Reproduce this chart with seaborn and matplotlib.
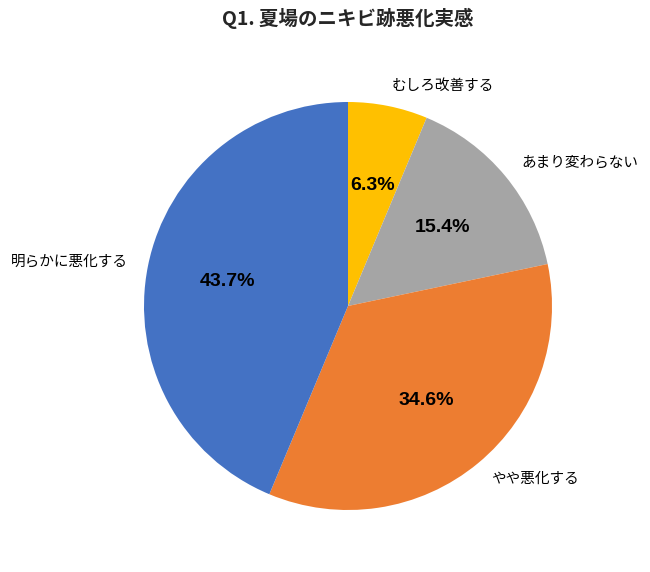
import matplotlib
matplotlib.use("Agg")
import matplotlib.pyplot as plt
import seaborn as sns

sns.set_theme(style="white")
plt.rcParams['font.family'] = ['Noto Sans CJK JP', 'DejaVu Sans']

categories = ["むしろ改善する", "あまり変わらない", "やや悪化する", "明らかに悪化する"]
values = [6.3, 15.4, 34.6, 43.7]
colors = ["#FFC000", "#A5A5A5", "#ED7D31", "#4472C4"]
title = "Q1. 夏場のニキビ跡悪化実感"

fig = plt.figure(figsize=(6.5, 5.72), dpi=100)
ax = fig.add_axes([144/650, 62/572, 408/650, 408/572])
wedges, texts, autotexts = ax.pie(
    values, labels=categories, colors=colors, startangle=90, counterclock=False,
    autopct="%.1f%%", pctdistance=0.6, labeldistance=1.1,
    wedgeprops=dict(linewidth=0),
    textprops=dict(fontsize=10.5, color="black"))
for t in autotexts:
    t.set_fontsize(14)
    t.set_fontweight("bold")
    t.set_color("black")
    t.set_fontfamily(["Liberation Sans", "DejaVu Sans"])
ax.set_xlim(-1, 1)
ax.set_ylim(-1, 1)
ax.set_aspect("equal")
fig.text(348/650, 1 - 18/572, title, ha="center", va="center", fontsize=14, fontweight="bold")
fig.savefig("out.png", dpi=100)
